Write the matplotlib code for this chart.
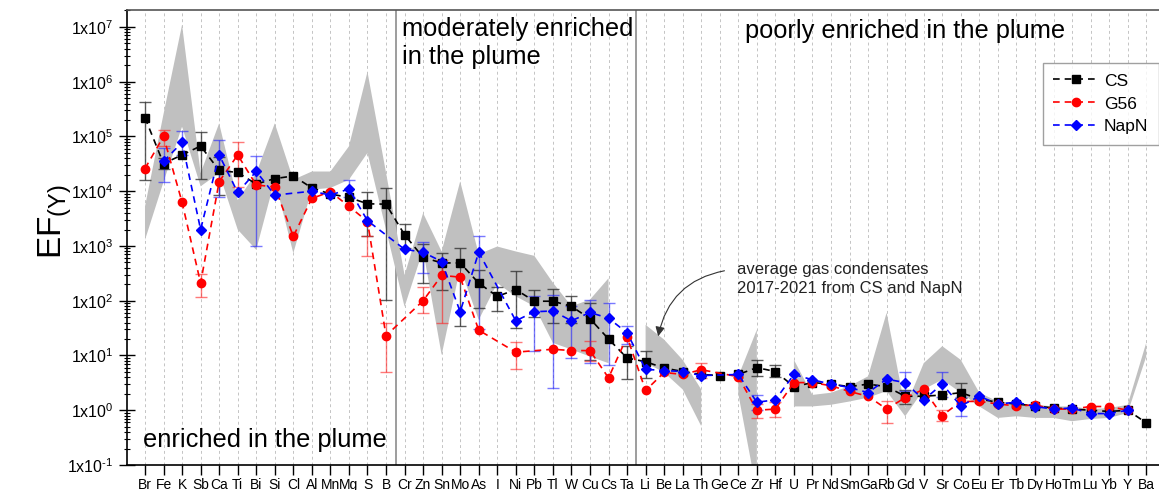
import numpy as np
import matplotlib.pyplot as plt
from matplotlib.ticker import LogLocator, NullFormatter

plt.rcParams['font.family'] = ['Liberation Sans', 'DejaVu Sans']
plt.rcParams['mathtext.default'] = 'regular'

nan = np.nan

elements = ['Br', 'Fe', 'K', 'Sb', 'Ca', 'Ti', 'Bi', 'Si', 'Cl', 'Al', 'Mn', 'Mg', 'S', 'B',
            'Cr', 'Zn', 'Sn', 'Mo', 'As', 'I', 'Ni', 'Pb', 'Tl', 'W', 'Cu', 'Cs', 'Ta',
            'Li', 'Be', 'La', 'Th', 'Ge', 'Ce', 'Zr', 'Hf', 'U', 'Pr', 'Nd', 'Sm', 'Ga', 'Rb',
            'Gd', 'V', 'Sr', 'Co', 'Eu', 'Er', 'Tb', 'Dy', 'Ho', 'Tm', 'Lu', 'Yb', 'Y', 'Ba']

cs = [2.2e5, 3.2e4, 4.6e4, 6.7e4, 2.4e4, 2.2e4, 1.35e4, 1.7e4, 1.9e4, 1.15e4, 8.9e3, 7.7e3, 5.9e3, 5.8e3,
      1.6e3, 6.2e2, 4.9e2, 4.9e2, 2.1e2, 1.2e2, 1.6e2, 98, 98, 79, 47, 20, 9.0,
      7.7, 5.9, 5.1, 4.5, 4.3, 4.5, 6.0, 5.1, 2.7, 3.2, 3.0, 2.7, 3.0, 2.7,
      1.8, 1.8, 1.9, 2.1, 1.6, 1.4, 1.3, 1.2, 1.1, 1.05, 1.0, 0.95, 1.0, 0.59]

g56 = [2.6e4, 1.0e5, 6.3e3, 2.1e2, 1.5e4, 4.6e4, 1.3e4, 1.2e4, 1.5e3, 7.4e3, 9.8e3, 5.3e3, 2.8e3, 23,
       nan, 100, 290, 270, 29, nan, 11.5, nan, 13, 12.3, 12.3, 3.9, 22,
       2.3, 4.9, 4.5, 5.5, nan, 4.1, 1.0, 1.05, 3.2, 3.2, 2.8, 2.2, 1.8, 1.05,
       1.7, 2.4, 0.8, 1.45, 1.45, 1.3, 1.2, 1.25, 1.05, 1.05, 1.17, 1.17, 1.0, nan]

napn = [nan, 3.5e4, 7.8e4, 2.0e3, 4.6e4, 9.5e3, 2.3e4, 8.5e3, nan, 1.0e4, 8.5e3, 1.1e4, 2.9e3, nan,
        8.7e2, 7.7e2, 5.2e2, 63, 7.7e2, nan, 43, 63, 65, 43, 61, 48, 26,
        5.6, 5.3, 5.1, 4.3, nan, 4.5, 1.4, 1.55, 4.5, 3.6, 3.0, 2.6, 2.1, 3.7,
        3.2, 1.55, 3.0, 1.2, 1.8, 1.3, 1.4, 1.17, 1.05, 1.1, 0.87, 0.87, 1.0, nan]

# gas condensates 2017-2021 range (log10 EF)
band_hi = [3.72, 5.41, 7.04, 4.33, 5.24, 3.84, 4.33, 5.24, 4.21, 4.36, 4.36, 4.82, 6.18, 4.34,
           2.47, 3.60, 2.90, 4.18, 2.85, 2.99, 2.90, 2.82, 2.33, 1.90, 2.02, 2.41, nan,
           1.56, 1.29, 0.92, 0.38, nan, 0.62, 1.47, nan, 0.92, 0.28, 0.32, 0.44, 0.62, 1.78,
           0.04, 0.86, 1.17, 0.92, 0.32, 0.16, 0.13, 0.10, 0.07, 0.07, 0.02, 0.04, 0.10, 1.23]
band_lo = [3.11, 4.17, 5.18, 4.09, 4.33, 3.30, 2.93, 4.21, 2.87, 4.03, 4.06, 4.21, 4.70, 3.30,
           1.89, 2.93, 1.01, 2.60, 1.65, 2.32, 2.08, 1.90, 1.23, 1.11, 0.98, 0.86, nan,
           0.87, 0.69, 0.38, -0.29, nan, 0.30, -1.5, nan, 0.07, 0.07, 0.10, 0.16, 0.23, 0.35,
           -0.11, 0.38, 0.56, 0.32, 0.07, -0.14, -0.11, -0.14, -0.14, -0.20, -0.16, -0.14, -0.05, 0.98]

# error bars (low, high)
cs_err = {'Br': (1.6e4, 4.2e5), 'Fe': (2.6e4, 4.0e4), 'Sb': (1.7e4, 1.2e5), 'Ca': (8.5e3, 4.2e4),
          'S': (1.5e3, 9.8e3), 'B': (105, 1.15e4), 'Cr': (9.1e2, 2.5e3), 'Zn': (2.1e2, 1.1e3),
          'Sn': (160, 760), 'Mo': (34, 930), 'As': (74, 370), 'I': (66, 178), 'Ni': (32, 355),
          'Pb': (51, 155), 'Tl': (40, 162), 'W': (39, 123), 'Cu': (8.3, 91), 'Ta': (3.7, 14.8),
          'Li': (3.9, 12.3), 'Zr': (4.3, 8.3), 'Hf': (4.0, 6.8), 'Co': (1.66, 3.2), 'Gd': (1.3, 2.3)}
g56_err = {'Fe': (6.6e4, 1.3e5), 'Sb': (115, 310), 'Ti': (1.2e4, 7.8e4), 'S': (660, 1.5e3),
           'B': (5.1, 40), 'Zn': (60, 182), 'Sn': (39, 560), 'Ni': (5.6, 17.4), 'Cu': (7.8, 18.2),
           'Zr': (0.72, 1.32), 'Hf': (0.76, 1.4), 'Th': (3.9, 7.4), 'Rb': (0.59, 1.45),
           'Sr': (0.63, 1.02)}
napn_err = {'Fe': (1.5e4, 6.2e4), 'K': (4.6e4, 1.26e5), 'Ca': (7.9e3, 8.5e4), 'Bi': (980, 4.4e4),
            'Mg': (7.9e3, 1.6e4), 'Zn': (3.2e2, 1.2e3), 'As': (30, 1.55e3), 'Pb': (12, 120),
            'Tl': (2.6, 129), 'W': (8.9, 79), 'Cu': (7.2, 102), 'Cs': (6.8, 91), 'Ta': (16, 35),
            'Sr': (1.78, 4.9), 'Gd': (2.24, 4.9), 'Co': (0.78, 1.78), 'Zr': (1.0, 1.9)}

x = np.arange(len(elements))

fig = plt.figure(figsize=(11.59, 4.9), dpi=100)
ax = fig.add_axes([127 / 1159, 25 / 490, 1032 / 1159, 455 / 490])
ax.set_yscale('log')
ax.set_xlim(-0.97, 54.69)
ax.set_ylim(0.1, 10 ** 7.31)

# dashed vertical gridlines at each element
ax.set_xticks(x)
ax.set_xticklabels(elements, fontsize=10)
ax.grid(axis='x', linestyle=(0, (3, 3)), color='#c4c4c4', lw=0.7)
ax.set_axisbelow(True)

# region separators
for xs in [13.55, 26.5]:
    ax.axvline(xs, color='#8c8c8c', lw=1.2, zorder=1)

# gray band
ax.fill_between(x, 10 ** np.array(band_lo), 10 ** np.array(band_hi),
                color='#c0c0c0', lw=0, zorder=1.5)


def draw_series(vals, errs, color, marker, ms, label, ecolor, ealpha):
    vals = np.array(vals, dtype=float)
    ok = ~np.isnan(vals)
    for el, (lo, hi) in errs.items():
        i = elements.index(el)
        mid = np.sqrt(lo * hi)
        ax.errorbar([i], [mid], yerr=[[mid - lo], [hi - mid]], fmt='none', ecolor=ecolor,
                    elinewidth=1.0, capsize=4, capthick=1.0, alpha=ealpha, zorder=3)
    ax.plot(x[ok], vals[ok], linestyle=(0, (4, 3)), color=color, lw=1.2,
            marker=marker, ms=ms, mfc=color, mec=color, label=label, zorder=4)


draw_series(cs, cs_err, 'black', 's', 5.5, 'CS', '#333333', 0.8)
draw_series(g56, g56_err, '#ff0000', 'o', 6, 'G56', '#ff2020', 0.6)
draw_series(napn, napn_err, '#0000ff', 'D', 5.5, 'NapN', '#2020ff', 0.6)

# y axis ticks
yt = [10.0 ** k for k in range(-1, 8)]
ax.set_yticks(yt)
ax.set_yticklabels(['1x10$^{\\mathregular{%s}}$' % str(k).replace('-', '\u2010') for k in range(-1, 8)],
                   fontsize=11.5)
ax.yaxis.set_minor_locator(LogLocator(base=10, subs=np.arange(2, 10), numticks=20))
ax.yaxis.set_minor_formatter(NullFormatter())
ax.tick_params(axis='y', which='major', direction='inout', length=11, width=1.0, pad=4)
ax.tick_params(axis='y', which='minor', direction='inout', length=5, width=0.8)
ax.tick_params(axis='x', which='major', direction='out', length=7, width=1.0, pad=2)
ax.tick_params(axis='x', which='minor', bottom=False)
ax.spines['right'].set_visible(False)
for s in ['left', 'bottom', 'top']:
    ax.spines[s].set_linewidth(1.2)
ax.spines['top'].set_color('#555555')

# y label
fig.text(55 / 1159, 1 - 222 / 490, 'EF$_{(Y)}$', rotation=90, fontsize=24,
         ha='center', va='center')

# region labels
fig.text(402 / 1159, 1 - 43 / 490, 'moderately enriched\nin the plume', fontsize=18.3,
         ha='left', va='center', linespacing=1.2)
fig.text(745 / 1159, 1 - 31 / 490, 'poorly enriched in the plume', fontsize=18.3,
         ha='left', va='center')
fig.text(143 / 1159, 1 - 440 / 490, 'enriched in the plume', fontsize=18.3,
         ha='left', va='center')

# band annotation
fig.text(737 / 1159, 1 - 279 / 490, 'average gas condensates\n2017-2021 from CS and NapN',
         fontsize=12, ha='left', va='center', linespacing=1.35, color='#222222')
ax.annotate('', xy=(27.65, 20), xytext=(31.4, 360),
            arrowprops=dict(arrowstyle='-|>', color='#333333', lw=0.8,
                            connectionstyle='arc3,rad=0.35', mutation_scale=14))

leg = ax.legend(loc='upper left', bbox_to_anchor=(1043 / 1159, 1 - 63 / 490),
                bbox_transform=fig.transFigure, fontsize=12.5, frameon=True,
                fancybox=False, handlelength=2.6, labelspacing=0.45, borderpad=0.6,
                handletextpad=0.3, borderaxespad=0)
leg.get_frame().set_edgecolor('#888888')
leg.get_frame().set_linewidth(1.0)

fig.savefig('out.png', dpi=100)
